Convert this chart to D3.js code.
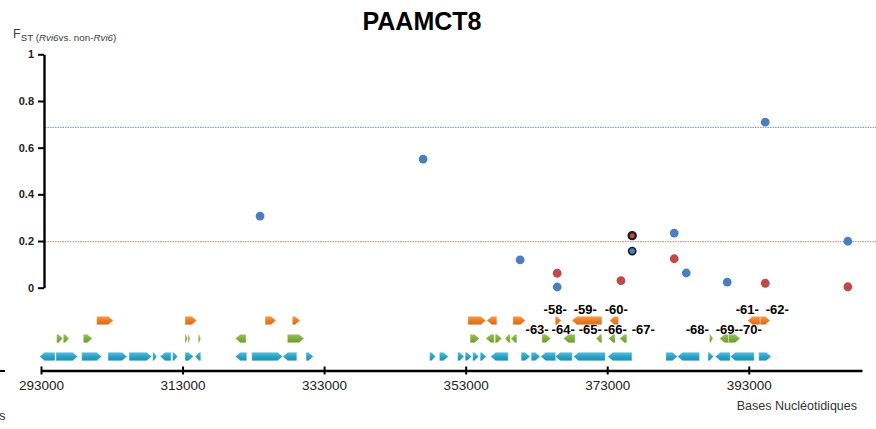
<!DOCTYPE html>
<html>
<head>
<meta charset="utf-8">
<script src="https://cdn.jsdelivr.net/npm/d3@7"></script>
<style>
  html, body { margin: 0; padding: 0; background: #fff; }
  svg { display: block; font-family: "Liberation Sans", Arial, sans-serif; }
</style>
</head>
<body>
<svg id="chart" width="876" height="429"></svg>
<script>
// ---- data ----
const xTicks = [293000, 313000, 333000, 353000, 373000, 393000];
const yTicks = [0, 0.2, 0.4, 0.6, 0.8, 1];
const yTickLabels = ["0", "0.2", "0.4", "0.6", "0.8", "1"];

// FST per marker position (bp): blue and red series
const posBlue = [323950, 346990, 360700, 365930, 376530, 382470, 384170, 389960, 395330, 407000];
const fstBlue = [0.307, 0.551, 0.119, 0.003, 0.157, 0.234, 0.063, 0.024, 0.709, 0.199];
const posRed = [365930, 374940, 376530, 382470, 395330, 407000];
const fstRed = [0.062, 0.030, 0.223, 0.124, 0.019, 0.004];
const highlightedPos = [376530];

// significance thresholds
const thresholdBlue = 0.687;
const thresholdRed = 0.197;

// gene models: [start, end, strand]
const genesOrange = [
  [300870, 303220, 1], [313350, 315010, 1], [324660, 326210, 1], [328520, 329610, 1],
  [353310, 355850, 1], [355990, 357410, -1], [359670, 361450, 1], [365650, 366500, 1],
  [368010, 372250, -1], [373330, 374600, -1], [392830, 394620, -1], [394620, 396030, 1]
];
const genesGreen = [
  [295220, 296070, 1], [296150, 296960, 1], [298980, 300250, 1], [313350, 313710, 1],
  [313780, 314060, 1], [315230, 315570, 1], [320460, 321970, -1], [327810, 330170, 1],
  [353630, 354950, 1], [355850, 357030, -1], [357170, 358120, 1], [358580, 359290, -1],
  [359390, 360240, -1], [363770, 365040, 1], [366820, 368470, -1], [371440, 372250, -1],
  [373180, 374130, -1], [374740, 375780, -1], [387460, 387940, 1], [388870, 390140, -1],
  [390140, 391790, 1]
];
const genesBlue = [
  [292800, 294980, -1], [295120, 298190, 1], [298750, 301580, 1], [302470, 305160, 1],
  [305440, 308650, 1], [308790, 309350, 1], [309820, 311370, -1], [311590, 312290, 1],
  [313350, 314550, 1], [314770, 315570, -1], [320460, 322070, -1], [322780, 327130, 1],
  [327160, 329140, -1], [330450, 331490, 1], [347910, 348760, 1], [349300, 350570, 1],
  [351870, 352790, 1], [352930, 353850, 1], [353990, 354840, 1], [355050, 355900, 1],
  [356530, 359010, -1], [360840, 362110, 1], [362260, 363530, 1], [363600, 365720, -1],
  [365650, 368050, -1], [368240, 372720, -1], [373070, 376490, -1], [381290, 382930, 1],
  [382930, 386040, -1], [387230, 388020, 1], [388260, 390380, -1], [390380, 393770, -1],
  [394410, 396180, 1]
];

// gene number labels: text, position (bp), row
const labelText = ["-58-", "-59-", "-60-", "-61-", "-62-",
                   "-63-", "-64-", "-65-", "-66-", "-67-", "-68-", "-69-", "-70-"];
const labelPos = [365650, 369890, 374270, 392790, 397030,
                  363100, 366780, 370600, 374130, 378090, 385720, 389960, 393210];
const labelRow = [0, 0, 0, 0, 0, 1, 1, 1, 1, 1, 1, 1, 1];

// ---- layout ----
const svg = d3.select("#chart");
const x = d3.scaleLinear().domain([293000, 409000]).range([41, 862]);
const y = d3.scaleLinear().domain([0, 1]).range([287.7, 54.3]);
const xAxisY = 370.5;
const trackY = { orange: 320.5, green: 338.5, blue: 356.5 };
const trackH = 8.5;
const labelRowY = [314, 333.5];

// gradients for the gene arrows
const defs = svg.append("defs");
const grad = (id, top, mid, bot) => {
  const g = defs.append("linearGradient").attr("id", id)
    .attr("x1", 0).attr("y1", 0).attr("x2", 0).attr("y2", 1);
  g.append("stop").attr("offset", "0%").attr("stop-color", top);
  g.append("stop").attr("offset", "45%").attr("stop-color", mid);
  g.append("stop").attr("offset", "100%").attr("stop-color", bot);
};
grad("gOrange", "#f5a052", "#ef7f22", "#d9691a");
grad("gGreen", "#9cc45e", "#82b13f", "#6c9a2e");
grad("gBlue", "#55c0de", "#2ea6c9", "#1d8db0");

// title
svg.append("text").attr("x", 422).attr("y", 30).attr("text-anchor", "middle")
  .attr("font-size", 25).attr("font-weight", "bold").attr("fill", "#000").text("PAAMCT8");

// y axis title: F with subscript
const yt = svg.append("text").attr("x", 13).attr("y", 38).attr("fill", "#404040");
yt.append("tspan").attr("font-size", 12.5).text("F");
yt.append("tspan").attr("font-size", 9.8).attr("dy", 3).text("ST (");
yt.append("tspan").attr("font-size", 9.8).attr("font-style", "italic").text("Rvi6");
yt.append("tspan").attr("font-size", 9.8).text("vs. non-");
yt.append("tspan").attr("font-size", 9.8).attr("font-style", "italic").text("Rvi6");
yt.append("tspan").attr("font-size", 9.8).text(")");

// threshold lines
[[thresholdBlue, "#6b8fd4"], [thresholdRed, "#e07474"]].forEach(([v, c]) => {
  svg.append("line").attr("x1", 45).attr("x2", 876)
    .attr("y1", y(v)).attr("y2", y(v))
    .attr("stroke", c).attr("stroke-width", 1).attr("stroke-dasharray", "1.5,1");
});

// y axis
const yAxis = svg.append("g").attr("transform", "translate(44,0)")
  .call(d3.axisLeft(y).tickValues(yTicks).tickSizeInner(6).tickSizeOuter(0)
    .tickFormat((d, i) => yTickLabels[i]));
yAxis.select(".domain").attr("stroke", "#000").attr("stroke-width", 2.4);
yAxis.selectAll(".tick line").attr("stroke", "#000").attr("stroke-width", 2);
yAxis.selectAll(".tick text").attr("font-size", 11).attr("font-weight", "bold")
  .attr("fill", "#222").attr("font-family", "Liberation Sans, Arial, sans-serif").attr("x", -10);

// x axis
const xAxis = svg.append("g").attr("transform", `translate(0,${xAxisY})`)
  .call(d3.axisBottom(x).tickValues(xTicks).tickSizeInner(4).tickSizeOuter(0)
    .tickFormat(d3.format("d")));
xAxis.select(".domain").attr("stroke", "#000").attr("stroke-width", 2.4);
xAxis.selectAll(".tick line").attr("stroke", "#000").attr("stroke-width", 2).attr("y1", -4);
xAxis.selectAll(".tick text").attr("font-size", 13.5).attr("fill", "#222")
  .attr("font-family", "Liberation Sans, Arial, sans-serif").attr("y", 10);

svg.append("text").attr("x", 857).attr("y", 410).attr("text-anchor", "end")
  .attr("font-size", 12.5).attr("fill", "#333").text("Bases Nucléotidiques");

// partial elements at the left edge
svg.append("line").attr("x1", 0).attr("x2", 5).attr("y1", 371).attr("y2", 371)
  .attr("stroke", "#000").attr("stroke-width", 2);
svg.append("text").attr("x", -1).attr("y", 420).attr("font-size", 13).attr("fill", "#333").text("s");

// gene arrows
function arrowPath(d, cy) {
  const x0 = x(d[0]), x1 = x(d[1]);
  const w = x1 - x0, h = trackH / 2;
  const tip = Math.min(5, w * 0.7);
  if (d[2] > 0) {
    return `M${x0},${cy - h}L${x1 - tip},${cy - h}L${x1},${cy}L${x1 - tip},${cy + h}L${x0},${cy + h}Z`;
  }
  return `M${x1},${cy - h}L${x0 + tip},${cy - h}L${x0},${cy}L${x0 + tip},${cy + h}L${x1},${cy + h}Z`;
}
[[genesOrange, trackY.orange, "url(#gOrange)"],
 [genesGreen, trackY.green, "url(#gGreen)"],
 [genesBlue, trackY.blue, "url(#gBlue)"]].forEach(([genes, cy, fill]) => {
  svg.append("g").selectAll("path").data(genes).join("path")
    .attr("d", d => arrowPath(d, cy))
    .attr("fill", fill)
    .attr("stroke", "rgba(255,255,255,0.55)").attr("stroke-width", 0.6);
});

// gene labels
svg.append("g").selectAll("text").data(labelText).join("text")
  .attr("x", (d, i) => x(labelPos[i]))
  .attr("y", (d, i) => labelRowY[labelRow[i]])
  .attr("text-anchor", "middle").attr("font-size", 13).attr("font-weight", "bold")
  .attr("fill", "#000").text(d => d);

// FST points
const pts = svg.append("g");
pts.selectAll("circle.blue").data(posBlue).join("circle").attr("class", "blue")
  .attr("cx", d => x(d)).attr("cy", (d, i) => y(fstBlue[i]))
  .attr("r", d => highlightedPos.includes(d) ? 3.6 : 4.4)
  .attr("fill", "#4a7ebf")
  .attr("stroke", d => highlightedPos.includes(d) ? "#1a1a1a" : "none")
  .attr("stroke-width", 1.6);
pts.selectAll("circle.red").data(posRed).join("circle").attr("class", "red")
  .attr("cx", d => x(d)).attr("cy", (d, i) => y(fstRed[i]))
  .attr("r", d => highlightedPos.includes(d) ? 3.6 : 4.4)
  .attr("fill", "#be4b48")
  .attr("stroke", d => highlightedPos.includes(d) ? "#1a1a1a" : "none")
  .attr("stroke-width", 2.2);
</script>
</body>
</html>
